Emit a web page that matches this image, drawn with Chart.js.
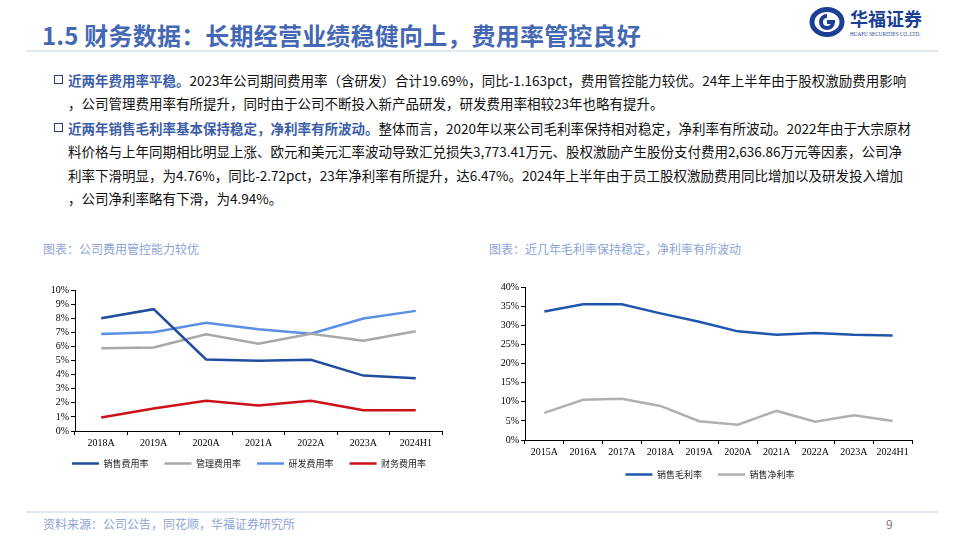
<!doctype html>
<html>
<head>
<meta charset="utf-8">
<title>1.5 财务数据</title>
<script src="https://cdn.jsdelivr.net/npm/chart.js@4"></script>
<style>
  html, body { margin: 0; padding: 0; background: #fff; }
  body { width: 960px; height: 540px; position: relative; overflow: hidden; font-family: "Noto Sans CJK SC", "Noto Sans", sans-serif; }
  .abs { position: absolute; white-space: nowrap; }
  .title { left: 42px; top: 17px; font-size: 24px; font-weight: bold; color: #4468b4; letter-spacing: 0.2px; }
  .rule { position: absolute; left: 26px; width: 912px; height: 2px; background: #e2e8f1; }
  .para { left: 68px; font-size: 13.5px; color: #111; }
  .para b { color: #3c5ea8; }
  .box { position: absolute; width: 7px; height: 7px; border: 1.8px solid #2c3f78; left: 54px; }
  .cap { font-size: 12px; color: #8ea4d8; }
  canvas { position: absolute; }
</style>
</head>
<body>
  <div class="abs title">1.5 财务数据：长期经营业绩稳健向上，费用率管控良好</div>
  <div class="rule" style="top:50px"></div>

  <!-- logo -->
  <svg class="abs" style="left:808px;top:6px" width="130" height="36" viewBox="0 0 130 36">
    <ellipse cx="19" cy="16" rx="15" ry="12.5" fill="none" stroke="#1b3f95" stroke-width="5"/>
    <path d="M19 10 a6 6 0 1 0 6 6 h-6" fill="none" stroke="#1b3f95" stroke-width="4"/>
    <text x="42" y="20" font-family="'Noto Sans CJK SC'" font-size="18" font-weight="bold" fill="#1b3f95">华福证券</text>
    <text x="42" y="30" font-family="'Liberation Serif'" font-size="5.2" fill="#1b3f95">HUAFU SECURITIES CO.,LTD.</text>
  </svg>

  <div class="box" style="top:75px"></div>
  <div class="abs para" style="top:70px"><b>近两年费用率平稳。</b>2023年公司期间费用率（含研发）合计19.69%，同比-1.163pct，费用管控能力较优。24年上半年由于股权激励费用影响</div>
  <div class="abs para" style="top:93px">，公司管理费用率有所提升，同时由于公司不断投入新产品研发，研发费用率相较23年也略有提升。</div>
  <div class="box" style="top:123px"></div>
  <div class="abs para" style="top:118px"><b>近两年销售毛利率基本保持稳定，净利率有所波动。</b>整体而言，2020年以来公司毛利率保持相对稳定，净利率有所波动。2022年由于大宗原材</div>
  <div class="abs para" style="top:141px">料价格与上年同期相比明显上涨、欧元和美元汇率波动导致汇兑损失3,773.41万元、股权激励产生股份支付费用2,636.86万元等因素，公司净</div>
  <div class="abs para" style="top:165px">利率下滑明显，为4.76%，同比-2.72pct，23年净利率有所提升，达6.47%。2024年上半年由于员工股权激励费用同比增加以及研发投入增加</div>
  <div class="abs para" style="top:188px">，公司净利率略有下滑，为4.94%。</div>

  <div class="abs cap" style="left:43px;top:240px">图表：公司费用管控能力较优</div>
  <div class="abs cap" style="left:489px;top:240px">图表：近几年毛利率保持稳定，净利率有所波动</div>

  <canvas id="left" width="440" height="200" style="left:30px;top:278px"></canvas>
  <canvas id="right" width="460" height="214" style="left:480px;top:275px"></canvas>

  <div class="rule" style="top:511px"></div>
  <div class="abs cap" style="left:43px;top:515px">资料来源：公司公告，同花顺，华福证券研究所</div>
  <div class="abs" style="left:886px;top:515px;font-size:12px;color:#777">9</div>

<script>
// 公司费用率 (%)
const costYears = ['2018A', '2019A', '2020A', '2021A', '2022A', '2023A', '2024H1'];
const salesRate = [8.0, 8.64, 5.07, 4.98, 5.05, 3.93, 3.74];
const adminRate = [5.86, 5.93, 6.86, 6.19, 6.90, 6.40, 7.07];
const rdRate = [6.88, 7.0, 7.67, 7.21, 6.90, 7.98, 8.52];
const financeRate = [0.95, 1.59, 2.14, 1.81, 2.14, 1.48, 1.48];

// 毛利率与净利率 (%)
const marginYears = ['2015A', '2016A', '2017A', '2018A', '2019A', '2020A', '2021A', '2022A', '2023A', '2024H1'];
const grossMargin = [33.6, 35.5, 35.5, 33.1, 30.9, 28.4, 27.5, 28.0, 27.5, 27.3];
const netMargin = [7.1, 10.5, 10.8, 8.9, 4.9, 4.0, 7.6, 4.76, 6.47, 4.94];

const tickFont = { family: 'Liberation Serif', size: 10 };
const legendFont = { family: 'Noto Sans CJK SC', size: 9 };

// nudge the bottom legend sideways so it sits where the original one does
const legendShift = {
  id: 'legendShift',
  afterLayout(chart, args, opts) {
    const lg = chart.legend;
    if (lg && opts.dx) { lg.left += opts.dx; lg.right += opts.dx; }
  }
};

function series(label, data, color) {
  return { label, data, borderColor: color, backgroundColor: color, borderWidth: 2.5,
    pointRadius: 0, pointHoverRadius: 0, tension: 0, fill: false };
}

function legendItems(chart) {
  const items = Chart.defaults.plugins.legend.labels.generateLabels(chart);
  items.forEach((it, i) => { if (i < items.length - 1) it.text += '   '; });
  return items;
}

function options(max, step, xHeight, dx) {
  return {
    responsive: false,
    animation: false,
    layout: { padding: { top: 12, right: 28, left: 0, bottom: 0 } },
    plugins: {
      legend: {
        position: 'bottom',
        labels: { usePointStyle: true, pointStyle: 'line', pointStyleWidth: 27,
          font: legendFont, color: '#222', padding: 10, generateLabels: legendItems }
      },
      legendShift: { dx },
      tooltip: { enabled: false }
    },
    scales: {
      x: {
        offset: true,
        grid: { offset: true, drawOnChartArea: false, drawTicks: true, tickLength: 4, color: '#000' },
        border: { color: '#000', width: 1 },
        ticks: { font: tickFont, color: '#000', padding: 2, maxRotation: 0, autoSkip: false },
        afterFit(scale) { scale.height = xHeight; }
      },
      y: {
        min: 0, max: max,
        grid: { drawOnChartArea: false, drawTicks: true, tickLength: 4, color: '#000' },
        border: { color: '#000', width: 1 },
        ticks: { stepSize: step, font: tickFont, color: '#000', padding: 2, autoSkip: false,
          callback: v => v + '%' },
        afterFit(scale) { scale.width = 45; }
      }
    }
  };
}

new Chart(document.getElementById('left'), {
  type: 'line',
  data: {
    labels: costYears,
    datasets: [
      series('销售费用率', salesRate, '#1f4e9e'),
      series('管理费用率', adminRate, '#a8a8a8'),
      series('研发费用率', rdRate, '#5b8fe3'),
      series('财务费用率', financeRate, '#cc1118')
    ]
  },
  options: options(10, 1, 18, 13),
  plugins: [legendShift]
});

new Chart(document.getElementById('right'), {
  type: 'line',
  data: {
    labels: marginYears,
    datasets: [
      series('销售毛利率', grossMargin, '#1f56ad'),
      series('销售净利率', netMargin, '#b0b0b0')
    ]
  },
  options: options(40, 5, 20, 14),
  plugins: [legendShift]
});
</script>
</body>
</html>
